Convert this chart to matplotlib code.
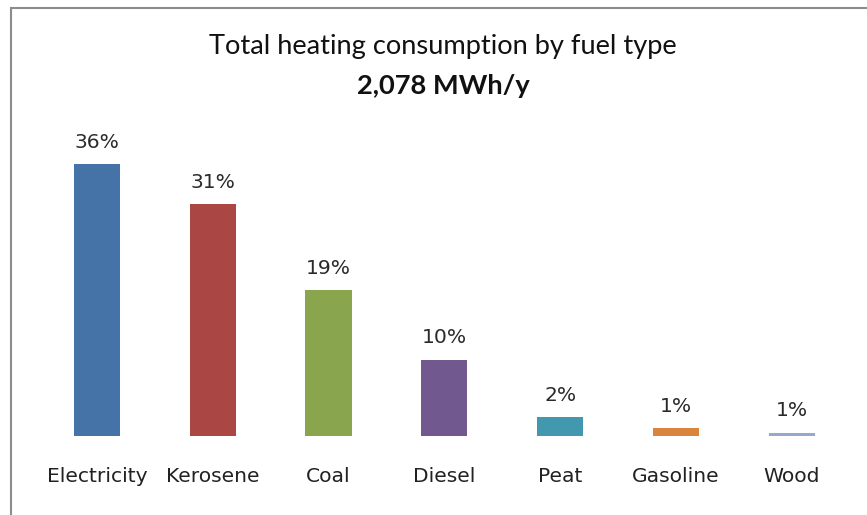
import numpy as np
import matplotlib
matplotlib.use("Agg")
import matplotlib.pyplot as plt
from matplotlib.patches import Rectangle

# Datos
fuels = ["Electricity", "Kerosene", "Coal", "Diesel", "Peat", "Gasoline", "Wood"]
shares = [36, 30.7, 19.3, 10.1, 2.5, 1.0, 0.4]
share_labels = ["36%", "31%", "19%", "10%", "2%", "1%", "1%"]
colors = ["#4572A7", "#AA4643", "#89A54E", "#71588F", "#4198AF", "#DB843D", "#93A9CF"]

title = "Total heating consumption by fuel type"
subtitle = "2,078 MWh/y"

w, h = 8.67, 5.15
fig = plt.figure(figsize=(w, h), dpi=100)
ax = fig.add_axes([0.045, 0.1534, 0.935, 0.5864])

x = np.arange(len(fuels))
bars = ax.bar(x, shares, width=0.4, color=colors)

for b, lab in zip(bars, share_labels):
    ax.annotate(lab, (b.get_x() + b.get_width() / 2, b.get_height()),
                xytext=(0, 9), textcoords="offset points",
                ha="center", va="bottom", fontsize=14.6, color="#2a2a2a",
                family="DejaVu Sans")

ax.set_xlim(-0.5, len(fuels) - 0.5)
ax.set_ylim(0, 40)
ax.set_xticks(x)
ax.set_xticklabels(fuels, fontsize=14.6, color="#222222", family="DejaVu Sans")
ax.tick_params(axis="x", length=0, pad=22)
ax.set_yticks([])
for s in ax.spines.values():
    s.set_visible(False)

# Titulo
fig.text(0.511, 0.909, title, ha="center", va="center", fontsize=19.6,
         family="Lato", color="#111111")
fig.text(0.511, 0.833, subtitle, ha="center", va="center", fontsize=19.6,
         family="Lato", weight="bold", color="#111111")

# Marco gris
fig.patches.append(Rectangle((11 / 867, -0.05), 1.0, 0.05 + (515 - 8) / 515,
                             transform=fig.transFigure, fill=False,
                             edgecolor="#8c8c8c", linewidth=1.5))

fig.savefig("out.png", dpi=100)
